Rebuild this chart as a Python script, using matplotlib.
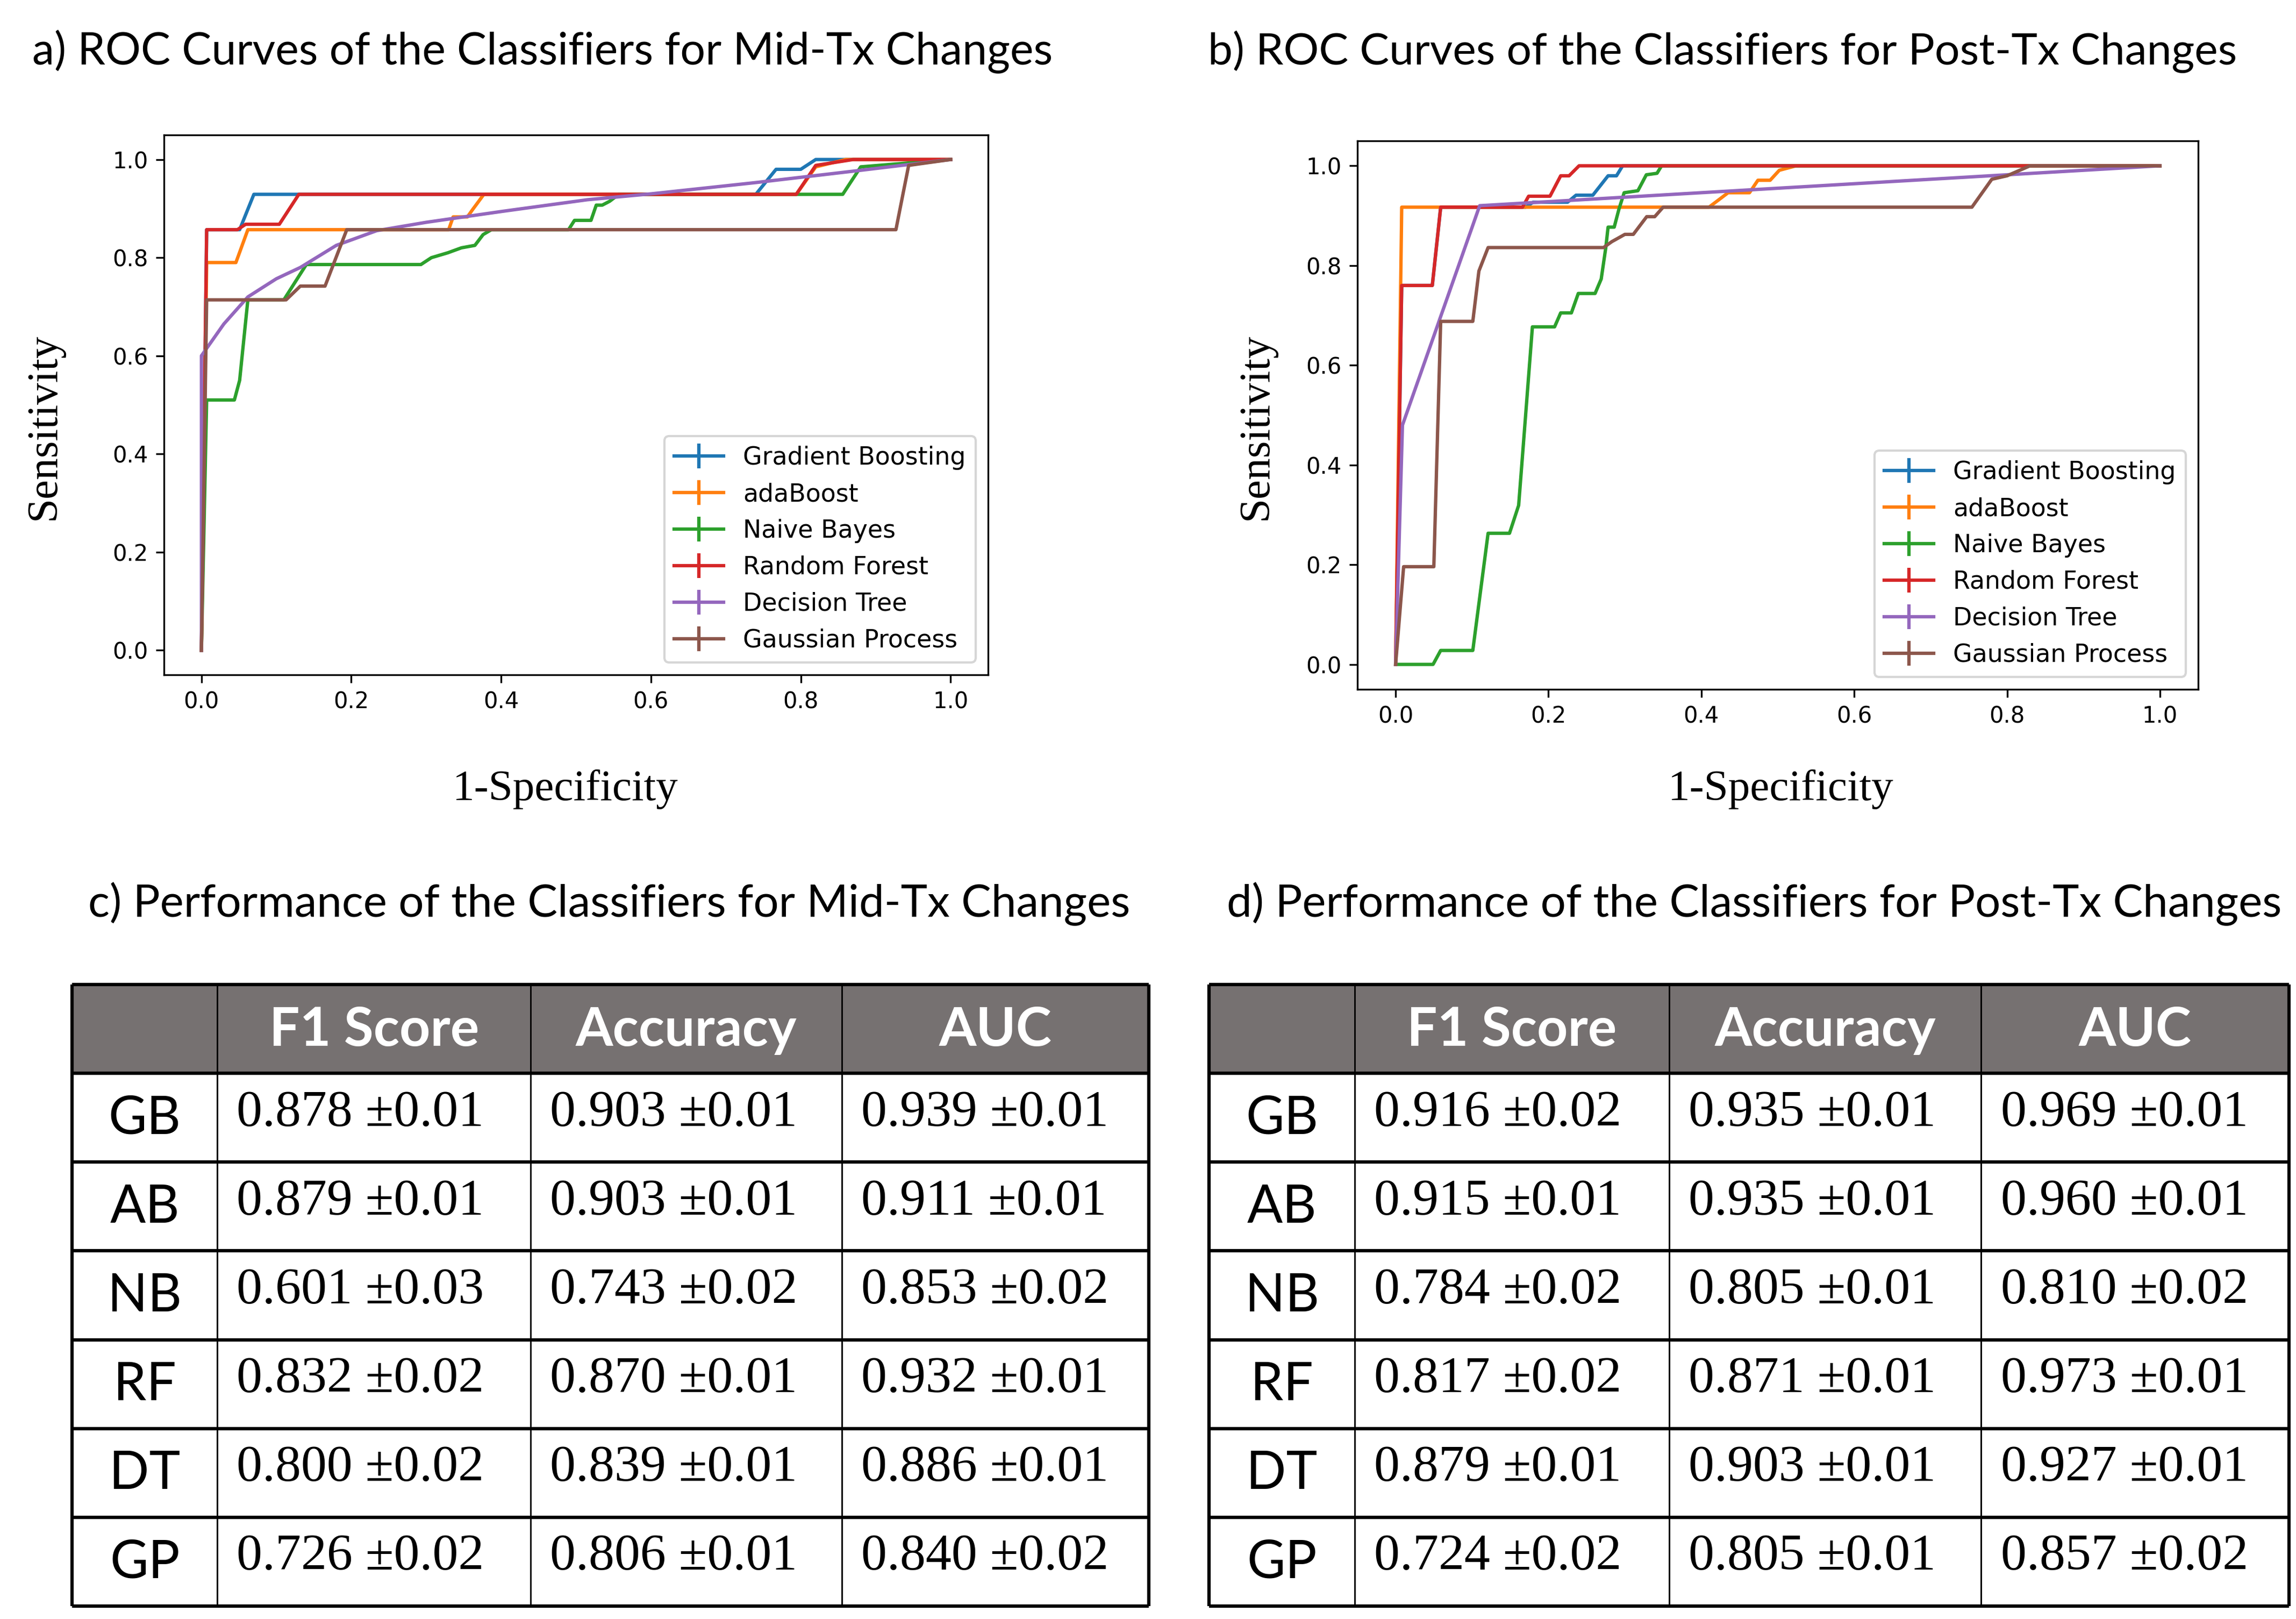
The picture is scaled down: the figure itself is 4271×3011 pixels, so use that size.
import numpy as np
import matplotlib
matplotlib.use('Agg')
import matplotlib.pyplot as plt
from matplotlib.patches import Rectangle

model_names = ['Gradient Boosting', 'adaBoost', 'Naive Bayes', 'Random Forest', 'Decision Tree', 'Gaussian Process']
short_names = ['GB', 'AB', 'NB', 'RF', 'DT', 'GP']
metric_names = ['F1 Score', 'Accuracy', 'AUC']

# a) ROC curves, mid-Tx (read off the picture)
mid_fpr_gb = [0, 0.007, 0.051, 0.07, 0.74, 0.767, 0.80, 0.82, 1.0]
mid_tpr_gb = [0, 0.857, 0.857, 0.929, 0.929, 0.98, 0.98, 1.0, 1.0]
mid_fpr_ab = [0, 0.007, 0.046, 0.062, 0.33, 0.336, 0.355, 0.362, 0.377, 0.794, 0.82, 0.86, 1.0]
mid_tpr_ab = [0, 0.79, 0.79, 0.857, 0.857, 0.883, 0.883, 0.898, 0.929, 0.929, 0.985, 1.0, 1.0]
mid_fpr_nb = [0, 0.007, 0.044, 0.051, 0.062, 0.11, 0.14, 0.293, 0.307, 0.329, 0.347, 0.365, 0.376,
              0.387, 0.49, 0.498, 0.52, 0.527, 0.535, 0.545, 0.557, 0.856, 0.88, 1.0]
mid_tpr_nb = [0, 0.51, 0.51, 0.55, 0.714, 0.714, 0.786, 0.786, 0.80, 0.81, 0.82, 0.825, 0.847,
              0.857, 0.857, 0.876, 0.876, 0.907, 0.907, 0.915, 0.929, 0.929, 0.985, 1.0]
mid_fpr_rf = [0, 0.007, 0.048, 0.059, 0.104, 0.13, 0.794, 0.82, 0.87, 1.0]
mid_tpr_rf = [0, 0.857, 0.857, 0.868, 0.868, 0.929, 0.929, 0.988, 1.0, 1.0]
mid_fpr_dt = [0, 0, 0.03, 0.062, 0.1, 0.132, 0.18, 0.234, 0.3, 0.4, 0.515, 0.6, 0.74, 0.88, 1.0]
mid_tpr_dt = [0, 0.6, 0.665, 0.72, 0.757, 0.78, 0.825, 0.855, 0.872, 0.894, 0.918, 0.93, 0.953, 0.978, 1.0]
mid_fpr_gp = [0, 0.007, 0.113, 0.132, 0.165, 0.194, 0.927, 0.944, 1.0]
mid_tpr_gp = [0, 0.714, 0.714, 0.742, 0.742, 0.857, 0.857, 0.988, 1.0]

# b) ROC curves, post-Tx
post_fpr_gb = [0, 0.008, 0.048, 0.059, 0.17, 0.18, 0.225, 0.236, 0.258, 0.278, 0.289, 0.297, 1.0]
post_tpr_gb = [0, 0.76, 0.76, 0.917, 0.917, 0.927, 0.927, 0.941, 0.941, 0.98, 0.98, 1.0, 1.0]
post_fpr_ab = [0, 0.008, 0.41, 0.435, 0.463, 0.474, 0.49, 0.502, 0.524, 1.0]
post_tpr_ab = [0, 0.917, 0.917, 0.946, 0.946, 0.971, 0.971, 0.991, 1.0, 1.0]
post_fpr_nb = [0, 0.049, 0.059, 0.101, 0.121, 0.149, 0.161, 0.179, 0.208, 0.216, 0.230, 0.239, 0.261,
               0.269, 0.275, 0.278, 0.286, 0.292, 0.299, 0.317, 0.328, 0.342, 0.348, 1.0]
post_tpr_nb = [0, 0, 0.028, 0.028, 0.263, 0.263, 0.319, 0.677, 0.677, 0.705, 0.705, 0.744, 0.744,
               0.773, 0.836, 0.877, 0.877, 0.912, 0.946, 0.95, 0.982, 0.985, 1.0, 1.0]
post_fpr_rf = [0, 0.008, 0.048, 0.059, 0.166, 0.174, 0.202, 0.216, 0.227, 0.24, 1.0]
post_tpr_rf = [0, 0.76, 0.76, 0.917, 0.917, 0.939, 0.939, 0.98, 0.98, 1.0, 1.0]
post_fpr_dt = [0, 0.009, 0.11, 1.0]
post_tpr_dt = [0, 0.48, 0.92, 1.0]
post_fpr_gp = [0, 0.0105, 0.05, 0.059, 0.101, 0.109, 0.121, 0.272, 0.283, 0.3, 0.311, 0.3285, 0.339,
               0.35, 0.754, 0.78, 0.8, 0.83, 1.0]
post_tpr_gp = [0, 0.196, 0.196, 0.688, 0.688, 0.789, 0.836, 0.836, 0.848, 0.8625, 0.8625, 0.898, 0.898,
               0.917, 0.917, 0.973, 0.98, 1.0, 1.0]

# c) performance, mid-Tx
mid_f1 = [0.878, 0.879, 0.601, 0.832, 0.800, 0.726]
mid_f1_sd = [0.01, 0.01, 0.03, 0.02, 0.02, 0.02]
mid_acc = [0.903, 0.903, 0.743, 0.870, 0.839, 0.806]
mid_acc_sd = [0.01, 0.01, 0.02, 0.01, 0.01, 0.01]
mid_auc = [0.939, 0.911, 0.853, 0.932, 0.886, 0.840]
mid_auc_sd = [0.01, 0.01, 0.02, 0.01, 0.01, 0.02]

# d) performance, post-Tx
post_f1 = [0.916, 0.915, 0.784, 0.817, 0.879, 0.724]
post_f1_sd = [0.02, 0.01, 0.02, 0.02, 0.01, 0.02]
post_acc = [0.935, 0.935, 0.805, 0.871, 0.903, 0.805]
post_acc_sd = [0.01, 0.01, 0.01, 0.01, 0.01, 0.01]
post_auc = [0.969, 0.960, 0.810, 0.973, 0.927, 0.857]
post_auc_sd = [0.01, 0.01, 0.02, 0.01, 0.01, 0.02]

W, H = 4271, 3011
fig = plt.figure(figsize=(W / 300, H / 300), dpi=300)
fig.patch.set_facecolor('white')


def px_axes(left, top, right, bottom):
    return fig.add_axes([left / W, 1 - bottom / H, (right - left) / W, (bottom - top) / H])


def fit_width(t, target):
    r = fig.canvas.get_renderer()
    w = t.get_window_extent(r).width
    t.set_fontsize(t.get_fontsize() * target / w)


def roc_panel(ax, curves):
    for name, (fpr, tpr) in zip(model_names, curves):
        ax.errorbar(fpr, tpr, yerr=np.zeros(len(fpr)), label=name, lw=1.5)
    ax.set_xticks([0, 0.2, 0.4, 0.6, 0.8, 1.0])
    ax.set_yticks([0, 0.2, 0.4, 0.6, 0.8, 1.0])
    ax.tick_params(labelsize=10)
    ax.legend(loc='lower right', fontsize=11)


ax_a = px_axes(305, 251, 1838, 1255)
roc_panel(ax_a, [(mid_fpr_gb, mid_tpr_gb), (mid_fpr_ab, mid_tpr_ab), (mid_fpr_nb, mid_tpr_nb),
                 (mid_fpr_rf, mid_tpr_rf), (mid_fpr_dt, mid_tpr_dt), (mid_fpr_gp, mid_tpr_gp)])
ax_b = px_axes(2525, 262, 4089, 1282)
roc_panel(ax_b, [(post_fpr_gb, post_tpr_gb), (post_fpr_ab, post_tpr_ab), (post_fpr_nb, post_tpr_nb),
                 (post_fpr_rf, post_tpr_rf), (post_fpr_dt, post_tpr_dt), (post_fpr_gp, post_tpr_gp)])

serif = 'Liberation Serif'
sans = 'Lato'

# axis labels
for x in [82, 2337]:
    fig.text(x / W, 1 - 793 / H, 'Sensitivity', rotation=90, ha='center', va='center',
             family=serif, fontsize=19.5)
for x in [1052, 3313]:
    fig.text(x / W, 1 - 1468 / H, '1-Specificity', ha='center', va='center',
             family=serif, fontsize=19.5)

# panel titles
titles = [('a) ROC Curves of the Classifiers for Mid-Tx Changes', 60, 96, 1902),
          ('b) ROC Curves of the Classifiers for Post-Tx Changes', 2247, 96, 1916),
          ('c) Performance of the Classifiers for Mid-Tx Changes', 164, 1681, 1940),
          ('d) Performance of the Classifiers for Post-Tx Changes', 2282, 1681, 1962)]
for txt, x, y, width in titles:
    t = fig.text(x / W, 1 - y / H, txt, ha='left', va='center', family=sans, fontsize=18.5)
    fit_width(t, width)

col_edges = [0, 0.135, 0.426, 0.715, 1.0]


def perf_table(ax, cols):
    ax.set_xlim(0, 1)
    ax.set_ylim(7, 0)
    ax.axis('off')
    ax.add_patch(Rectangle((0, 0), 1, 1, facecolor='#767171', edgecolor='none'))
    for j, name in enumerate(metric_names):
        xc = (col_edges[j + 1] + col_edges[j + 2]) / 2
        ax.text(xc, 0.69, name, ha='center', va='baseline', color='white',
                family=sans, fontweight='bold', fontsize=24)
    for i, lab in enumerate(short_names):
        ax.text(col_edges[1] / 2, i + 1 + 0.68, lab, ha='center', va='baseline',
                family=sans, fontsize=23.5)
        for j, (vals, sds) in enumerate(cols):
            ax.text(col_edges[j + 1] + 0.018, i + 1 + 0.59, f'{vals[i]:.3f} \u00b1{sds[i]:.2f}',
                    ha='left', va='baseline', family=serif, fontsize=23)
    ax.hlines(range(8), 0, 1, color='black', lw=1.5, clip_on=False)
    ax.vlines([0, 1], 0, 7, color='black', lw=1.5, clip_on=False)
    ax.vlines(col_edges[1:4], 0, 7, color='black', lw=0.7, clip_on=False)


ax_c = px_axes(134, 1831, 2137, 2987)
perf_table(ax_c, [(mid_f1, mid_f1_sd), (mid_acc, mid_acc_sd), (mid_auc, mid_auc_sd)])
ax_d = px_axes(2249, 1831, 4258, 2987)
perf_table(ax_d, [(post_f1, post_f1_sd), (post_acc, post_acc_sd), (post_auc, post_auc_sd)])

fig.savefig('out.png', dpi=300, facecolor='white')
